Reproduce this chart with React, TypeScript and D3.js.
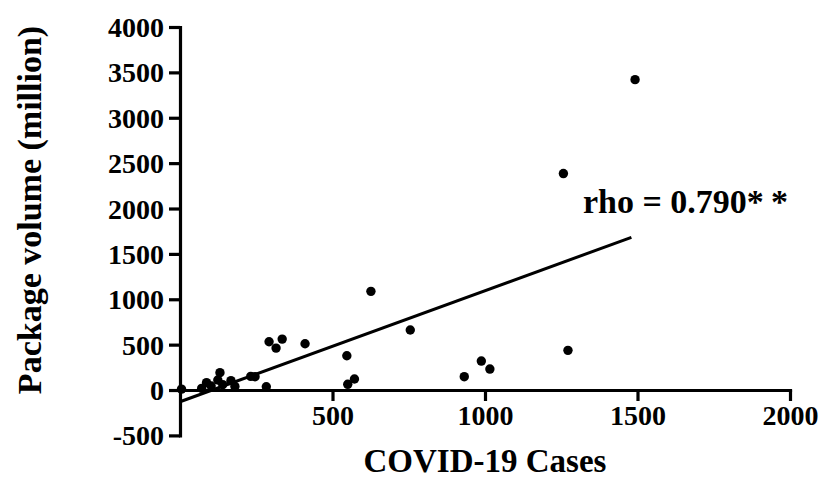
import React, { useEffect, useRef } from 'react';
import * as d3 from 'd3';

// COVID-19 cases vs package volume (million)
const cases = [1492, 1257, 1272, 626, 755, 932, 988, 1016, 292, 315, 335, 410, 547, 550, 572, 283, 246, 167, 131, 124, 87, 102, 5, 71, 140, 180, 232];
const volume = [3420, 2385, 437, 1087, 661, 147, 319, 231, 532, 462, 561, 510, 378, 63, 121, 36, 147, 103, 191, 110, 81, 44, 10, 18, 60, 40, 150];

const xTicks = [500, 1000, 1500, 2000];
const yTicks = [-500, 0, 500, 1000, 1500, 2000, 2500, 3000, 3500, 4000];

// fitted line (intercept, slope) and its x extent
const fitIntercept = -129;
const fitSlope = 1.2236;
const fitRange = [0, 1480];

const App = () => {
  const svgRef = useRef<SVGSVGElement>(null);

  useEffect(() => {
    const svg = d3.select(svgRef.current);
    svg.selectAll('*').remove();

    const font = '"Liberation Serif", "Times New Roman", serif';
    const x = d3.scaleLinear().domain([0, 2000]).range([180, 790]);
    const y = d3.scaleLinear().domain([-500, 4000]).range([435.4, 27]);
    const fmt = (d: number) => String(d);

    const g = svg.append('g');

    // y axis
    const yAxis = g.append('g')
      .attr('transform', `translate(${x(0)},0)`)
      .call(d3.axisLeft(y).tickValues(yTicks).tickFormat(fmt).tickSize(11).tickSizeOuter(0).tickPadding(5));

    // x axis crosses at y = 0
    const xAxis = g.append('g')
      .attr('transform', `translate(0,${y(0)})`)
      .call(d3.axisBottom(x).tickValues(xTicks).tickFormat(fmt).tickSize(11).tickSizeOuter(0).tickPadding(4));

    [yAxis, xAxis].forEach(ax => {
      ax.select('.domain').attr('stroke', '#000').attr('stroke-width', 3.2).attr('stroke-linecap', 'square');
      ax.selectAll('.tick line').attr('stroke', '#000').attr('stroke-width', 3.2);
      ax.selectAll('.tick text')
        .attr('fill', '#000')
        .attr('font-family', font)
        .attr('font-weight', 'bold')
        .attr('font-size', 28);
    });
    yAxis.selectAll('.tick text').attr('dy', '0.34em');

    // regression line
    const line = d3.line<number>()
      .x(d => x(d))
      .y(d => y(fitIntercept + fitSlope * d));
    g.append('path')
      .attr('d', line(fitRange))
      .attr('fill', 'none')
      .attr('stroke', '#000')
      .attr('stroke-width', 3);

    // points
    g.selectAll('circle')
      .data(cases)
      .enter()
      .append('circle')
      .attr('cx', d => x(d))
      .attr('cy', (d, i) => y(volume[i]))
      .attr('r', 4.7)
      .attr('fill', '#000');

    // annotation
    const note = g.append('text')
      .attr('x', 583)
      .attr('y', 213)
      .attr('font-family', font)
      .attr('font-weight', 'bold')
      .attr('font-size', 34);
    note.append('tspan').text('rho = 0.790*');
    note.append('tspan').attr('dx', 7).text('*');

    // axis titles
    g.append('text')
      .attr('x', 485)
      .attr('y', 472)
      .attr('text-anchor', 'middle')
      .attr('font-family', font)
      .attr('font-weight', 'bold')
      .attr('font-size', 33)
      .text('COVID-19 Cases');

    g.append('text')
      .attr('transform', 'translate(41,210) rotate(-90)')
      .attr('text-anchor', 'middle')
      .attr('font-family', font)
      .attr('font-weight', 'bold')
      .attr('font-size', 34)
      .text('Package volume (million)');
  }, []);

  return (
    <svg ref={svgRef} width={822} height={483}
      style={{ position: 'absolute', left: 0, top: 0, background: '#fff' }} />
  );
};

export default App;
